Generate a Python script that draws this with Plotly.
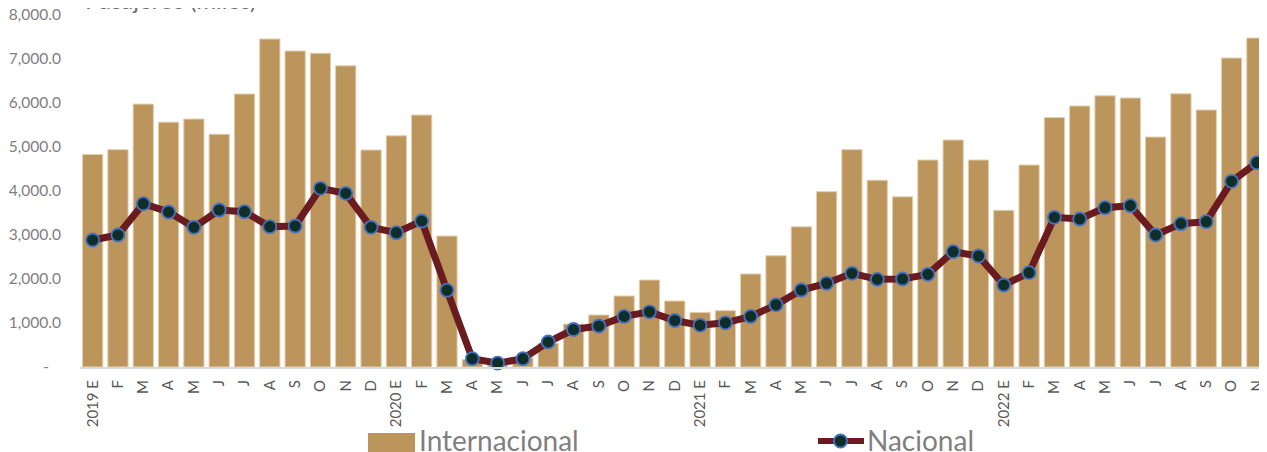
import plotly.graph_objects as go

MONTHS = ["E", "F", "M", "A", "M", "J", "J", "A", "S", "O", "N", "D"]
labels = (["2019 E"] + MONTHS[1:] + ["2020 E"] + MONTHS[1:]
          + ["2021 E"] + MONTHS[1:] + ["2022 E"] + MONTHS[1:11])

internacional = [4830, 4940, 5975, 5565, 5636, 5290, 6205, 7455, 7182, 7132, 6845, 4932,
                 5255, 5727, 2977, 165, 45, 210, 540, 975, 1182, 1614, 1977, 1500,
                 1240, 1280, 2114, 2528, 3186, 3985, 4940, 4245, 3868, 4705, 5159, 4705,
                 3561, 4591, 5670, 5932, 6163, 6114, 5227, 6210, 5841, 7023, 7477]

nacional = [2886, 3000, 3712, 3523, 3174, 3568, 3530, 3189, 3205, 4061, 3947, 3174,
            3053, 3318, 1745, 189, 87, 189, 568, 852, 932, 1150, 1254, 1057,
            947, 1004, 1150, 1413, 1750, 1902, 2129, 1992, 2000, 2106, 2621, 2523,
            1864, 2144, 3402, 3364, 3621, 3667, 3000, 3258, 3303, 4220, 4644]

y_ticks = [0, 1000, 2000, 3000, 4000, 5000, 6000, 7000, 8000]
y_ticktext = ["-\u00a0\u00a0\u00a0"] + [f"{v:,.1f}" for v in y_ticks[1:]]

GOLD = "#BC955C"
MAROON = "#6A1B20"
DARKGREEN = "#0F2E28"
BLUE = "#4472C4"
GRAY = "#7F7F7F"
FONT = "Lato, 'Noto Sans', sans-serif"

x = list(range(len(labels)))

fig = go.Figure()
fig.add_trace(go.Bar(
    x=x, y=internacional, name="Internacional",
    marker=dict(color=GOLD, line=dict(color="#E3CFAE", width=1)),
    showlegend=False,
))
fig.add_trace(go.Scatter(
    x=x, y=nacional, name="Nacional", mode="lines+markers",
    line=dict(color=MAROON, width=7),
    marker=dict(size=13, color=DARKGREEN, line=dict(color=BLUE, width=1.8)),
    cliponaxis=False, showlegend=False,
))

# legend drawn by hand; page coords -> paper (plot area spans x 80..1267, y 15..367)
def px(v):
    return (v - 80) / 1187


def py(v):
    return (367 - v) / 352


shapes = [
    dict(type="rect", xref="paper", yref="paper",
         x0=px(368), x1=px(415), y0=py(452), y1=py(433),
         fillcolor=GOLD, line=dict(width=0)),
    dict(type="line", xref="paper", yref="paper",
         x0=px(818), x1=px(864), y0=py(441), y1=py(441),
         line=dict(color=MAROON, width=6)),
    dict(type="circle", xref="paper", yref="paper",
         x0=px(834), x1=px(847), y0=py(447.5), y1=py(434.5),
         fillcolor=DARKGREEN, line=dict(color=BLUE, width=1.8)),
]
annotations = [
    dict(text="Internacional", xref="paper", yref="paper", x=px(417), y=py(440),
         xanchor="left", yanchor="middle", showarrow=False,
         font=dict(size=28, color=GRAY, family=FONT)),
    dict(text="Nacional", xref="paper", yref="paper", x=px(865), y=py(440),
         xanchor="left", yanchor="middle", showarrow=False,
         font=dict(size=28, color=GRAY, family=FONT)),
    dict(text="Pasajeros (miles)", xref="paper", yref="paper", x=px(258), y=py(16),
         xanchor="right", yanchor="bottom", showarrow=False,
         font=dict(size=24, color="#6E6E6E", family=FONT)),
]

# the page body adds an 8px margin, so the figure is 8px smaller than the window
fig.update_layout(
    width=1259, height=444,
    margin=dict(l=72, r=0, t=7, b=85, autoexpand=False),
    paper_bgcolor="white", plot_bgcolor="white",
    bargap=0.2,
    font=dict(family=FONT, color=GRAY),
    shapes=shapes, annotations=annotations,
    xaxis=dict(
        range=[-0.5, 46.4], tickmode="array", tickvals=x, ticktext=labels,
        tickangle=-90, tickfont=dict(size=15, color="#595959"),
        showgrid=False, showline=True, linecolor="#D9D9D9", linewidth=2,
        ticks="", zeroline=False, automargin=False, ticklabelstandoff=5,
    ),
    yaxis=dict(
        range=[0, 8000.5], tickmode="array", tickvals=y_ticks, ticktext=y_ticktext,
        tickfont=dict(size=15.5, color=GRAY), showgrid=False, zeroline=False,
        ticks="", ticklabelstandoff=18, automargin=False, ticklabeloverflow="allow",
    ),
)

fig.write_html("out.html")
